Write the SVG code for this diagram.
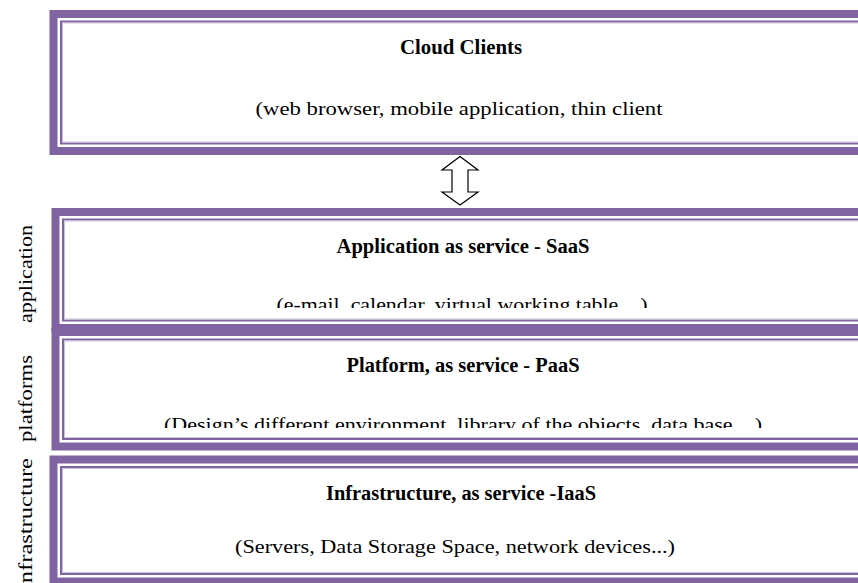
<svg xmlns="http://www.w3.org/2000/svg" width="858" height="583" viewBox="0 0 858 583">
  <style>
    .outer { fill: #8064A2; }
    .inner { fill: #FFFFFF; }
    .thin { fill: none; stroke: #8064A2; stroke-width: 2; }
    .thin2 { fill: none; stroke: #CCC0DA; stroke-width: 1; }
    text { font-family: "Liberation Serif", "Times New Roman", serif; fill: #000000; }
    .title { font-size: 20px; font-weight: bold; text-anchor: middle; }
    .sub { font-size: 19px; text-anchor: middle; }
    .side { font-size: 19px; }
    .arrow { fill: #FFFFFF; stroke: #000000; stroke-width: 1.2; stroke-linejoin: miter; }
  </style>
  <defs>
    <clipPath id="clipSaaS"><rect x="60" y="220" width="810" height="88"/></clipPath>
    <clipPath id="clipPaaS"><rect x="60" y="340" width="810" height="88"/></clipPath>
  </defs>
  <rect x="0" y="0" width="858" height="583" fill="#FFFFFF"/>

  <g id="node-clients">
    <rect class="outer" x="49.5" y="10" width="830" height="145"/>
    <rect class="inner" x="57.5" y="18" width="814" height="129"/>
    <rect class="thin" x="61" y="21.5" width="807" height="122"/>
    <rect class="thin2" x="62.5" y="23" width="804" height="119"/>
    <text class="title" x="461" y="54" textLength="122" lengthAdjust="spacingAndGlyphs">Cloud Clients</text>
    <text class="sub" x="459" y="115" textLength="407" lengthAdjust="spacingAndGlyphs">(web browser, mobile application, thin client</text>
  </g>

  <g id="node-saas">
    <rect class="outer" x="51.5" y="208" width="830" height="124"/>
    <rect class="inner" x="59.5" y="216" width="814" height="108"/>
    <rect class="thin" x="63" y="219.5" width="807" height="101"/>
    <rect class="thin2" x="64.5" y="221" width="804" height="98"/>
    <text class="title" x="463" y="253" textLength="253" lengthAdjust="spacingAndGlyphs">Application as service - SaaS</text>
    <text class="sub" x="462" y="311" textLength="371" lengthAdjust="spacingAndGlyphs" clip-path="url(#clipSaaS)">(e-mail, calendar, virtual working table…)</text>
  </g>

  <g id="node-paas">
    <rect class="outer" x="51.5" y="328" width="830" height="122.5"/>
    <rect class="inner" x="59.5" y="336" width="814" height="106.5"/>
    <rect class="thin" x="63" y="339.5" width="807" height="99.5"/>
    <rect class="thin2" x="64.5" y="341" width="804" height="96.5"/>
    <text class="title" x="463" y="372" textLength="233" lengthAdjust="spacingAndGlyphs">Platform, as service - PaaS</text>
    <text class="sub" x="463" y="431" textLength="598" lengthAdjust="spacingAndGlyphs" clip-path="url(#clipPaaS)">(Design’s different environment, library of the objects, data base…)</text>
  </g>

  <g id="node-iaas">
    <rect class="outer" x="49.5" y="455.5" width="830" height="130"/>
    <rect class="inner" x="57.5" y="463.5" width="814" height="114"/>
    <rect class="thin" x="61" y="467" width="807" height="107"/>
    <rect class="thin2" x="62.5" y="468.5" width="804" height="104"/>
    <text class="title" x="461" y="500" textLength="270" lengthAdjust="spacingAndGlyphs">Infrastructure, as service -IaaS</text>
    <text class="sub" x="455" y="553" textLength="440" lengthAdjust="spacingAndGlyphs">(Servers, Data Storage Space, network devices...)</text>
  </g>

  <g id="side-labels">
    <text class="side" transform="translate(32,274) rotate(-90)" text-anchor="middle" textLength="98" lengthAdjust="spacingAndGlyphs">application</text>
    <text class="side" transform="translate(32,398.5) rotate(-90)" text-anchor="middle" textLength="87" lengthAdjust="spacingAndGlyphs">platforms</text>
    <text class="side" transform="translate(32,458) rotate(-90)" text-anchor="end" textLength="132" lengthAdjust="spacingAndGlyphs">infrastructure</text>
  </g>

  <g id="connectors">
    <path class="arrow" d="M460,156.5 L478,170 L468,170 L468,192 L478,192 L460,205 L442,192 L452,192 L452,170 L442,170 Z"/>
  </g>
</svg>
